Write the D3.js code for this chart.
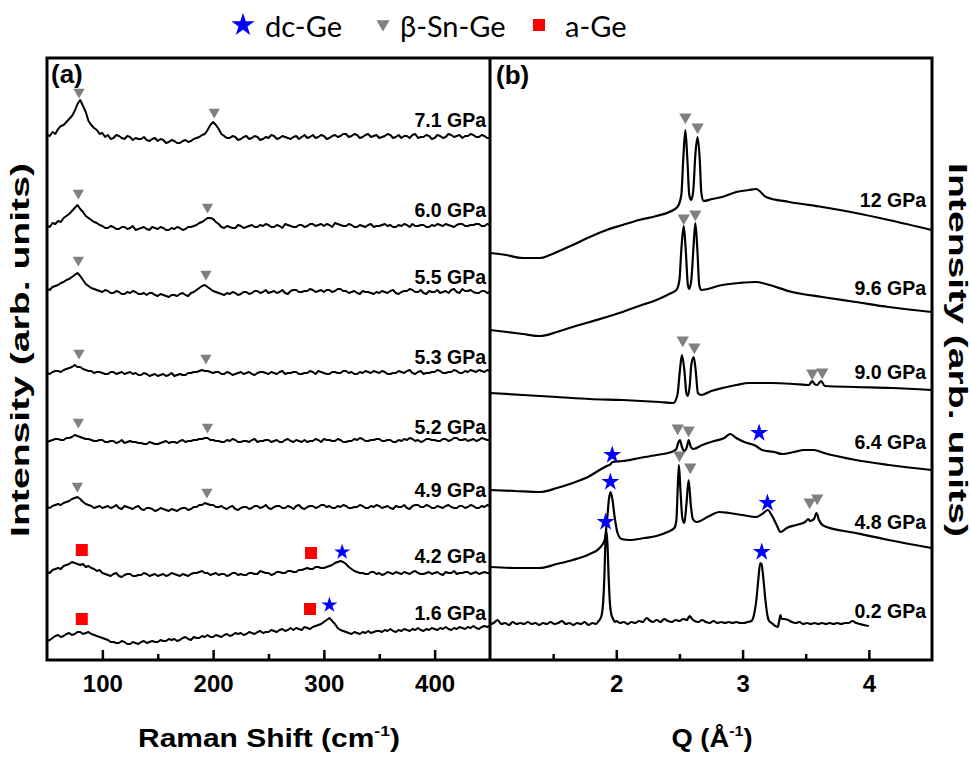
<!DOCTYPE html>
<html>
<head>
<meta charset="utf-8">
<script src="https://cdn.jsdelivr.net/npm/d3@7"></script>
<style>
  body { margin: 0; background: #fff; }
  svg { display: block; }
</style>
</head>
<body>
<svg id="chart" width="971" height="758"></svg>
<script>
// ---------- Panel (a): Raman spectra, sampled every 2.5 cm-1 from 50 to 450 ----------
// Each row below holds 20 samples (50 cm-1); the last value is at 450 cm-1.
const ramanStart = 50;
const ramanStep = 2.5;
const ramanLabels = ["7.1 GPa", "6.0 GPa", "5.5 GPa", "5.3 GPa", "5.2 GPa", "4.9 GPa", "4.2 GPa", "1.6 GPa"];
const ramanOffsets = [522, 433, 367, 286, 218, 152, 85, 19];
const ramanLabelLevels = [539.5, 449, 382.3, 302.3, 232.3, 169, 103, 46.3];

const raman71 = [
  2,1,5,3,8,11,12,15,18,21,26,33,37,31,25,16,12,9,7,3,
  4,0,2,-2,-1,2,1,-1,-2,1,0,-3,-1,-2,-2,0,-3,-4,-2,-1,
  -4,-2,-3,-6,-5,-3,-4,-6,-6,-4,-3,-5,-4,-2,-1,0,2,3,7,12,
  15,12,8,3,1,-1,-1,1,0,-3,-2,0,1,-2,-1,1,0,-3,-2,0,
  -1,2,1,-2,-1,1,0,-1,-2,0,1,-2,0,2,-1,0,2,-1,0,2,
  1,-2,-1,1,2,0,1,3,3,0,1,3,2,-1,0,2,3,0,1,2,
  -1,0,1,3,2,-1,0,2,-1,1,1,-1,2,3,-1,0,0,2,1,-2,
  -1,2,1,-1,0,3,2,0,1,2,-1,1,1,3,2,0,0,2,1,-1,
  -1];
const raman60 = [
  0,-1,3,2,5,4,8,10,12,15,18,21,17,14,10,8,6,4,3,1,
  0,-2,-2,0,-1,-3,-3,-1,-1,-3,-2,0,-4,-3,-2,-1,-3,-4,-1,-2,
  -3,-1,-2,-4,-4,-2,-3,-1,-2,-4,-3,-1,-1,0,1,3,4,6,8,8,
  7,4,2,-1,-2,0,-1,-2,-2,1,0,-2,-1,0,1,-1,-1,1,0,2,
  1,-1,-1,1,0,-2,2,1,0,-1,-1,1,1,-1,0,2,2,0,1,2,
  0,2,1,-1,3,2,1,0,0,2,1,-1,-1,1,0,-1,1,2,-1,0,
  0,1,2,0,1,-1,-1,1,0,2,1,-1,2,0,0,1,1,-1,-1,1,
  0,2,1,0,2,1,0,-1,1,2,2,0,0,1,1,2,2,0,0,2,
  1];
const raman55 = [
  3,2,5,6,7,9,10,12,13,15,17,19,16,12,8,6,4,3,2,1,
  0,2,1,-1,-1,1,0,-2,-2,0,-1,1,0,-2,-2,-1,-3,-1,-1,-3,
  -4,-2,-3,-4,-5,-3,-3,-4,-2,-1,-3,-4,-1,0,2,4,6,7,5,3,
  1,0,-1,-2,-3,-1,-2,0,-1,-3,-2,0,0,-2,-1,1,1,-1,0,2,
  -1,0,1,-1,0,2,-1,-2,1,2,2,0,0,1,1,3,2,0,1,2,
  0,2,2,0,1,3,3,1,1,-1,0,1,-1,-2,1,0,0,-1,-2,0,
  -1,1,0,-1,1,2,-1,-2,0,1,1,3,2,0,0,2,-1,-2,1,0,
  0,2,-1,0,1,-1,2,3,0,-1,3,1,1,2,0,-1,-1,1,1,-1,
  0];
const raman53 = [
  0,-1,1,2,2,1,3,4,5,6,8,6,6,4,3,2,2,0,1,1,
  0,-1,-1,1,1,-1,0,1,-1,0,1,-1,0,-2,-2,0,-1,-3,-2,-1,
  -3,-2,-1,-3,-2,0,-3,-2,-1,-2,-2,0,0,1,1,2,3,2,2,1,
  0,1,1,-1,-1,1,0,-2,-1,0,1,-1,0,1,-1,-2,0,1,1,0,
  -1,1,0,-1,1,2,-1,0,0,1,1,-1,-1,0,0,2,1,-1,2,1,
  0,-1,-1,1,1,0,0,2,2,0,1,-1,-1,1,0,2,1,0,2,1,
  0,2,1,-1,-1,0,0,2,1,0,2,3,0,-1,1,2,-1,0,0,1,
  1,3,2,0,0,1,1,3,2,0,0,2,1,3,2,1,3,2,1,3,
  2];
const raman52 = [
  -1,0,1,2,2,1,1,3,3,4,6,5,4,3,2,2,1,0,0,1,
  1,-1,-1,0,0,-2,-1,1,-2,-1,0,-1,-1,-2,-2,-3,-3,-1,-2,-3,
  -3,-2,-1,0,-2,-1,-1,-2,0,1,-1,0,0,1,1,2,2,3,3,1,
  1,0,0,-1,-1,1,0,2,1,-1,-1,0,0,-1,1,2,-1,0,0,1,
  1,-1,0,1,-1,-1,1,2,0,-1,1,0,-1,1,-1,0,0,2,1,-1,
  2,1,1,0,0,2,1,-1,-1,0,0,2,1,3,2,0,0,1,1,2,
  2,0,0,1,1,-1,-1,1,0,2,1,3,2,0,1,-1,0,2,2,1,
  1,0,0,2,2,0,1,3,3,1,1,2,0,1,2,0,1,3,2,1,
  1];
const raman49 = [
  0,-1,1,2,3,2,4,5,6,8,9,10,8,5,3,2,1,-1,0,1,
  -1,0,1,-1,0,2,-1,-2,1,0,-1,-2,0,1,-2,-3,-1,-1,-2,-4,
  -3,-1,-2,-3,-4,-2,-3,-4,-2,-1,-1,-3,-2,0,0,2,2,4,3,2,
  2,0,0,1,-1,-2,0,1,-2,-3,-1,0,0,-2,-1,1,1,-1,0,2,
  -1,-2,0,1,1,-1,-1,1,0,-2,1,2,-1,-2,0,1,1,-1,0,2,
  2,0,1,-1,-1,1,0,2,1,-1,-1,0,0,2,1,-1,-1,1,0,2,
  1,-1,0,1,-1,-2,1,0,0,2,-1,-2,1,2,2,0,0,2,1,-1,
  -1,1,0,-1,1,2,0,-1,-1,1,1,-1,0,2,1,-1,-1,1,0,2,
  1];
const raman42 = [
  2,1,4,5,6,5,8,9,10,12,11,10,9,10,7,8,6,5,3,4,
  1,0,-1,-2,0,1,-2,-3,-1,0,0,-2,-2,-1,-1,1,0,-2,-1,0,
  -2,-1,0,-2,-1,1,0,-1,-2,0,-1,-2,0,1,1,2,3,1,1,-1,
  0,1,-1,0,0,-2,-1,1,1,-1,0,-1,-1,1,1,0,0,3,2,1,
  1,-1,0,2,2,1,1,3,3,2,2,4,4,5,6,5,5,7,7,6,
  6,7,8,9,11,12,13,12,10,7,5,3,2,1,1,0,0,2,2,0,
  1,-1,0,2,1,0,2,1,0,2,1,0,2,3,1,0,0,1,2,0,
  1,2,0,-1,2,1,1,3,0,1,1,2,2,0,1,2,0,1,2,1,
  1];
const raman16 = [
  -1,0,2,4,5,3,4,6,7,5,6,8,8,6,7,8,6,5,4,3,
  2,1,0,-2,-2,-3,-3,-1,-2,-4,-4,-2,-3,-4,-2,-1,-3,-2,-1,-2,
  -2,0,-1,-1,1,0,1,-1,0,2,3,1,0,3,2,2,4,3,5,3,
  3,5,4,3,5,6,4,5,7,6,7,5,6,8,7,6,8,9,7,8,
  8,10,9,8,10,11,9,10,12,10,12,11,10,13,12,11,13,14,15,16,
  18,20,22,19,16,12,10,9,8,7,6,8,7,6,8,7,9,7,8,9,
  9,8,10,9,11,9,8,10,9,11,10,9,11,10,12,10,9,11,10,12,
  11,10,12,11,13,11,10,12,11,13,12,11,13,12,14,12,11,13,14,13,
  14];

// Phase markers in panel (a): [phase, Raman shift, intensity level]
const ramanMarkers = [
  ["beta", 78.9, 567], ["beta", 201, 547],
  ["beta", 78.3, 466], ["beta", 194.9, 452],
  ["beta", 78.3, 399], ["beta", 193.5, 385],
  ["beta", 78.9, 306], ["beta", 193.5, 301],
  ["beta", 78.3, 237], ["beta", 194.9, 232],
  ["beta", 77.4, 173], ["beta", 194.4, 167],
  ["amorph", 81.4, 109], ["amorph", 288.4, 106], ["dc", 316.5, 107],
  ["amorph", 81.4, 40], ["amorph", 287.5, 50], ["dc", 305, 54]
];

// ---------- Panel (b): diffraction patterns, [Q, stacked intensity] ----------
const xrdLabels = ["12 GPa", "9.6 GPa", "9.0 GPa", "6.4 GPa", "4.8 GPa", "0.2 GPa"];
const xrdLabelLevels = [459, 371, 287.3, 217.3, 137.3, 48];

const xrd120 = [[1.0,406],[1.126,404],[1.26,401],[1.395,401],[1.474,404],[1.53,407],[1.655,414],[1.79,422],[1.924,429],[2.05,434],[2.18,439],[2.318,443],[2.42,447],[2.484,452],[2.515,464],[2.53,499],[2.547,529],[2.563,499],[2.578,464],[2.594,459],[2.61,469],[2.626,504],[2.644,522],[2.661,499],[2.673,467],[2.689,458],[2.76,460],[2.839,462],[2.95,467],[3.05,469],[3.107,470],[3.186,462],[3.37,457],[3.63,452],[3.896,446],[4.157,439],[4.497,429]];
const xrd96 = [[1.0,329],[1.134,327],[1.26,325],[1.395,323],[1.53,327],[1.655,332],[1.79,337],[1.924,342],[2.05,347],[2.18,353],[2.318,359],[2.42,365],[2.476,369],[2.5,379],[2.515,409],[2.534,433],[2.55,409],[2.567,374],[2.578,370],[2.594,379],[2.61,409],[2.626,436],[2.642,409],[2.657,374],[2.673,369],[2.839,374],[2.974,376],[3.107,377],[3.186,375],[3.392,367],[3.63,362],[3.896,357],[4.157,352],[4.497,347]];
const xrd90 = [[1.0,266],[1.26,264],[1.53,262],[1.79,260],[2.05,259],[2.342,257],[2.452,256],[2.484,264],[2.504,289],[2.52,304],[2.539,289],[2.555,266],[2.567,263],[2.582,274],[2.594,294],[2.613,302],[2.63,287],[2.646,266],[2.673,264],[2.752,268],[2.839,271],[2.95,274],[3.053,276],[3.235,276],[3.41,275],[3.526,274],[3.55,278],[3.57,275],[3.59,274],[3.621,278],[3.652,273],[3.89,272],[4.18,271],[4.497,269]];
const xrd64 = [[1.0,169],[1.197,168],[1.395,167],[1.53,171],[1.655,176],[1.79,183],[1.868,189],[1.924,193],[1.956,195],[1.97,197],[2.05,198],[2.184,201],[2.318,204],[2.437,207],[2.476,210],[2.49,216],[2.504,219],[2.52,212],[2.54,208],[2.559,212],[2.573,219],[2.59,212],[2.61,210],[2.681,214],[2.776,218],[2.855,221],[2.902,225],[2.95,221],[3.013,217],[3.107,213],[3.155,209],[3.25,207],[3.313,205],[3.408,207],[3.487,209],[3.566,209],[3.645,206],[3.896,199],[4.157,194],[4.497,189]];
const xrd48 = [[1.0,92],[1.197,91],[1.395,91],[1.53,95],[1.655,99],[1.79,105],[1.868,111],[1.908,119],[1.927,139],[1.943,161],[1.955,167],[1.97,159],[1.987,142],[2.01,126],[2.042,120],[2.105,119],[2.223,121],[2.318,123],[2.405,127],[2.46,131],[2.476,139],[2.486,169],[2.496,194],[2.508,169],[2.523,141],[2.539,136],[2.555,154],[2.573,179],[2.59,154],[2.606,140],[2.634,137],[2.736,143],[2.816,147],[2.894,146],[2.997,144],[3.107,142],[3.155,145],[3.2,149],[3.23,144],[3.27,134],[3.3,127],[3.35,131],[3.424,134],[3.495,137],[3.52,140],[3.534,138],[3.566,140],[3.585,146],[3.605,139],[3.645,133],[3.896,126],[4.157,119],[4.497,111]];
const xrd02 = [[1.0,35],[1.03,36],[1.06,39],[1.09,35],[1.12,36],[1.15,34],[1.18,37],[1.21,35],[1.24,36],[1.27,35],[1.30,37],[1.33,35],[1.36,36],[1.39,34],[1.42,36],[1.45,35],[1.48,37],[1.51,35],[1.54,36],[1.57,38],[1.60,35],[1.63,36],[1.66,34],[1.69,36],[1.72,35],[1.75,37],[1.78,34],[1.81,36],[1.84,35],[1.86,38],[1.88,42],[1.895,55],[1.905,80],[1.915,120],[1.921,129],[1.93,115],[1.94,80],[1.95,55],[1.96,45],[1.975,40],[1.99,37],[2.0,38],[2.03,36],[2.06,37],[2.09,35],[2.12,37],[2.15,36],[2.18,38],[2.21,37],[2.24,41],[2.26,39],[2.29,37],[2.32,39],[2.35,37],[2.38,40],[2.41,38],[2.44,37],[2.47,39],[2.50,38],[2.53,40],[2.56,39],[2.58,43],[2.60,40],[2.62,38],[2.65,37],[2.68,39],[2.71,37],[2.74,36],[2.77,38],[2.80,36],[2.83,37],[2.86,36],[2.89,37],[2.92,36],[2.95,37],[2.98,36],[3.01,36],[3.04,37],[3.07,38],[3.09,44],[3.11,60],[3.125,80],[3.14,96],[3.15,95],[3.165,80],[3.18,60],[3.195,45],[3.21,38],[3.23,36],[3.26,33],[3.28,32],[3.29,38],[3.30,44],[3.31,40],[3.33,40],[3.36,39],[3.39,37],[3.42,36],[3.45,37],[3.48,35],[3.51,36],[3.54,35],[3.57,36],[3.60,35],[3.63,36],[3.66,35],[3.69,36],[3.72,35],[3.75,36],[3.78,35],[3.81,36],[3.84,36],[3.87,38],[3.90,36],[3.93,35],[3.96,34],[4.00,33]];

// Phase markers in panel (b): [phase, Q, intensity level]
const xrdMarkers = [
  ["beta", 2.547, 542], ["beta", 2.644, 532],
  ["beta", 2.534, 441], ["beta", 2.626, 445],
  ["beta", 2.526, 319], ["beta", 2.618, 312], ["beta", 3.552, 286], ["beta", 3.631, 287],
  ["beta", 2.486, 231], ["beta", 2.573, 229], ["dc", 1.968, 204], ["dc", 3.131, 226],
  ["dc", 1.953, 177], ["beta", 2.5, 204], ["beta", 2.586, 192], ["dc", 3.197, 156], ["beta", 3.531, 157], ["beta", 3.591, 161],
  ["dc", 1.916, 137], ["dc", 3.152, 107]
];

// Axis ticks
const ramanMajorTicks = [100, 200, 300, 400];
const ramanMinorTicks = [150, 250, 350];
const qMajorTicks = [2, 3, 4];
const qMinorTicks = [1.5, 2.5, 3.5];

// Legend entries
const legendPhases = ["dc", "beta", "amorph"];
const legendNames = ["dc-Ge", "β-Sn-Ge", "a-Ge"];

// ---------- Drawing ----------
const svg = d3.select("#chart");
svg.append("rect").attr("width", 971).attr("height", 758).attr("fill", "#fff");

const frame = { left: 47, mid: 490, right: 932, top: 58, bottom: 660 };
const axisFont = "'Liberation Sans', Arial, Helvetica, sans-serif";

const xA = d3.scaleLinear().domain([50, 450]).range([frame.left, frame.mid]);
const xB = d3.scaleLinear().domain([1, 4.5]).range([frame.mid, frame.right]);
const y = d3.scaleLinear().domain([0, 601]).range([659, 58]);

const phaseColor = { dc: "#0000ff", beta: "#808080", amorph: "#ff0000" };

function markerPath(phase, scale) {
  if (phase === "dc") return d3.symbol().type(d3.symbolStar).size(80 * scale)();
  if (phase === "beta") return d3.symbol().type(d3.symbolTriangle).size(55 * scale)();
  return d3.symbol().type(d3.symbolSquare).size(144 * scale)();
}
function markerTransform(phase, px, py) {
  return phase === "beta" ? `translate(${px},${py}) rotate(180)` : `translate(${px},${py})`;
}

// Panel (a) traces
const ramanSeries = [raman71, raman60, raman55, raman53, raman52, raman49, raman42, raman16];
const ramanTable = ramanSeries.map((vals, i) => ({
  label: ramanLabels[i],
  level: ramanLabelLevels[i],
  points: vals.map((v, k) => [ramanStart + k * ramanStep, ramanOffsets[i] + v])
}));

svg.append("clipPath").attr("id", "clipA").append("rect")
  .attr("x", frame.left).attr("y", frame.top)
  .attr("width", frame.mid - frame.left).attr("height", frame.bottom - frame.top);

const lineA = d3.line().x(d => xA(d[0])).y(d => y(d[1]));
const gA = svg.append("g");
gA.append("g").attr("clip-path", "url(#clipA)")
  .selectAll("path.trace").data(ramanTable).join("path")
  .attr("class", "trace")
  .attr("d", d => lineA(d.points))
  .attr("fill", "none").attr("stroke", "#000").attr("stroke-width", 2)
  .attr("stroke-linejoin", "round");

gA.selectAll("text.plabel").data(ramanTable).join("text")
  .attr("class", "plabel")
  .attr("x", frame.mid - 4).attr("y", d => y(d.level) + 7)
  .attr("text-anchor", "end")
  .attr("font-family", axisFont).attr("font-weight", "bold").attr("font-size", 19.5)
  .text(d => d.label);

gA.selectAll("path.marker").data(ramanMarkers).join("path")
  .attr("class", "marker")
  .attr("d", d => markerPath(d[0], 1))
  .attr("transform", d => markerTransform(d[0], xA(d[1]), y(d[2])))
  .attr("fill", d => phaseColor[d[0]]);

// Panel (b) traces
const xrdSeries = [xrd120, xrd96, xrd90, xrd64, xrd48, xrd02];
const xrdTable = xrdSeries.map((pts, i) => ({ label: xrdLabels[i], level: xrdLabelLevels[i], points: pts }));

const lineB = d3.line().x(d => xB(d[0])).y(d => y(d[1])).curve(d3.curveMonotoneX);
const gB = svg.append("g");
gB.selectAll("path.trace").data(xrdTable).join("path")
  .attr("class", "trace")
  .attr("d", d => lineB(d.points))
  .attr("fill", "none").attr("stroke", "#000").attr("stroke-width", 2.2)
  .attr("stroke-linejoin", "round");

gB.selectAll("text.plabel").data(xrdTable).join("text")
  .attr("class", "plabel")
  .attr("x", frame.right - 6).attr("y", d => y(d.level) + 7)
  .attr("text-anchor", "end")
  .attr("font-family", axisFont).attr("font-weight", "bold").attr("font-size", 19.5)
  .text(d => d.label);

gB.selectAll("path.marker").data(xrdMarkers).join("path")
  .attr("class", "marker")
  .attr("d", d => markerPath(d[0], d[0] === "dc" ? 1.25 : 1.2))
  .attr("transform", d => markerTransform(d[0], xB(d[1]), y(d[2])))
  .attr("fill", d => phaseColor[d[0]]);

// Axes with inward ticks
function drawAxis(scale, major, minor, fmt) {
  const gMaj = svg.append("g").attr("transform", `translate(0,${frame.bottom})`)
    .call(d3.axisBottom(scale).tickValues(major).tickSize(-10).tickPadding(15).tickFormat(fmt));
  gMaj.select(".domain").remove();
  gMaj.selectAll("line").attr("stroke-width", 2.5);
  gMaj.selectAll("text").attr("font-family", axisFont).attr("font-weight", "bold")
    .attr("font-size", 24).attr("fill", "#000");
  const gMin = svg.append("g").attr("transform", `translate(0,${frame.bottom})`)
    .call(d3.axisBottom(scale).tickValues(minor).tickSize(-6).tickFormat(""));
  gMin.select(".domain").remove();
  gMin.selectAll("line").attr("stroke-width", 2.5);
}
drawAxis(xA, ramanMajorTicks, ramanMinorTicks, d3.format("d"));
drawAxis(xB, qMajorTicks, qMinorTicks, d3.format("d"));

// Frames
svg.append("rect")
  .attr("x", frame.left).attr("y", frame.top)
  .attr("width", frame.right - frame.left).attr("height", frame.bottom - frame.top)
  .attr("fill", "none").attr("stroke", "#000").attr("stroke-width", 3);
svg.append("line")
  .attr("x1", frame.mid).attr("x2", frame.mid).attr("y1", frame.top).attr("y2", frame.bottom)
  .attr("stroke", "#000").attr("stroke-width", 3);

// Panel letters
svg.append("text").attr("x", 51).attr("y", 83)
  .attr("font-family", axisFont).attr("font-weight", "bold").attr("font-size", 26).text("(a)");
svg.append("text").attr("x", 496).attr("y", 84)
  .attr("font-family", axisFont).attr("font-weight", "bold").attr("font-size", 26).text("(b)");

// Axis titles, stretched to span the same extent as the printed ones
function stretchedTitle(parent, build, cx, cy, targetLen, rotate) {
  const g = parent.append("g");
  const t = g.append("text")
    .attr("font-family", axisFont).attr("font-weight", "bold").attr("font-size", 25.5)
    .attr("text-anchor", "middle");
  build(t);
  const len = t.node().getComputedTextLength();
  const s = targetLen / len;
  g.attr("transform", `translate(${cx},${cy}) rotate(${rotate}) scale(${s},1)`);
  return g;
}
stretchedTitle(svg, t => {
  t.append("tspan").text("Raman Shift (cm");
  t.append("tspan").attr("font-size", 15).attr("dy", -11).text("-1");
  t.append("tspan").attr("dy", 11).text(")");
}, 269, 747, 262, 0);
stretchedTitle(svg, t => {
  t.append("tspan").text("Q (Å");
  t.append("tspan").attr("font-size", 15).attr("dy", -11).text("-1");
  t.append("tspan").attr("dy", 11).text(")");
}, 712, 747, 81, 0);
stretchedTitle(svg, t => t.text("Intensity (arb. units)"), 29, 350, 374, -90);
stretchedTitle(svg, t => t.text("Intensity (arb. units)"), 949, 350, 374, 90);

// Legend
const legendSymbolX = [243, 383, 539];
const legendTextX = [265, 400, 565];
const gL = svg.append("g");
legendPhases.forEach((ph, i) => {
  const size = ph === "dc" ? 170 : ph === "beta" ? 75 : 144;
  const sym = ph === "dc" ? d3.symbolStar : ph === "beta" ? d3.symbolTriangle : d3.symbolSquare;
  gL.append("path")
    .attr("d", d3.symbol().type(sym).size(size)())
    .attr("transform", markerTransform(ph, legendSymbolX[i], ph === "beta" ? 24 : 25))
    .attr("fill", phaseColor[ph]);
  gL.append("text")
    .attr("x", legendTextX[i]).attr("y", 37)
    .attr("font-family", "Lato, 'Open Sans', sans-serif").attr("font-size", 29)
    .text(legendNames[i]);
});
</script>
</body>
</html>
